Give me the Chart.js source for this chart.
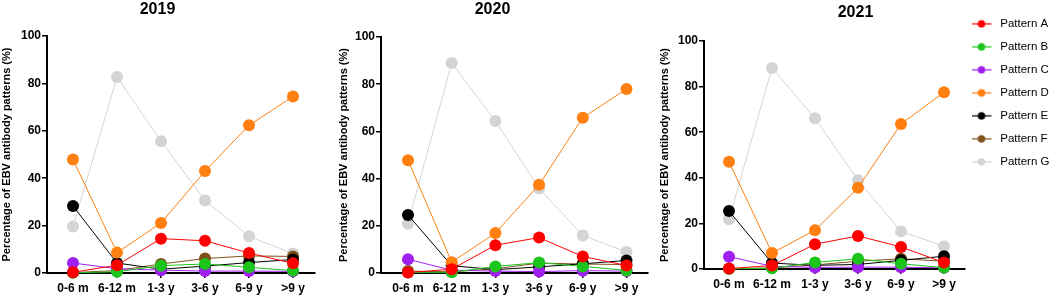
<!DOCTYPE html>
<html>
<head>
<meta charset="utf-8">
<script src="https://cdn.jsdelivr.net/npm/chart.js@4.4.1/dist/chart.umd.min.js"></script>
<style>
  html, body { margin: 0; padding: 0; background: #fff; overflow: hidden; }
  body { width: 1053px; height: 298px; position: relative; }
  .panel { position: absolute; }
</style>
</head>
<body>
<div class="panel" id="panel0"><canvas id="chart0"></canvas></div>
<div class="panel" id="panel1"><canvas id="chart1"></canvas></div>
<div class="panel" id="panel2"><canvas id="chart2"></canvas></div>
<script>
const years = ['2019', '2020', '2021'];
const ageGroups = ['0-6 m', '6-12 m', '1-3 y', '3-6 y', '6-9 y', '>9 y'];
const patternNames = ['Pattern A', 'Pattern B', 'Pattern C', 'Pattern D', 'Pattern E', 'Pattern F', 'Pattern G'];
const yTicks = [0, 20, 40, 60, 80, 100];

// rows: Pattern A..G, columns: age groups
const values2019 = [
    [0.3, 3.3, 14.5, 13.6, 8.4, 4.1],
    [0.1, 0.5, 3.1, 3.8, 2.4, 1.0],
    [4.2, 1.8, 1.2, 0.8, 0.8, 0.7],
    [47.9, 8.6, 21.1, 43.0, 62.3, 74.5],
    [28.3, 4.2, 1.6, 2.9, 4.4, 5.7],
    [0.2, 1.0, 3.8, 6.1, 7.2, 7.0],
    [19.6, 82.7, 55.6, 30.6, 15.5, 8.2]
];
const values2020 = [
    [0.2, 1.6, 11.8, 15.0, 7.0, 3.2],
    [0.2, 0.3, 2.8, 4.4, 2.8, 1.1],
    [5.8, 1.2, 0.8, 0.6, 1.0, 0.8],
    [47.8, 4.6, 16.9, 37.4, 65.8, 78.0],
    [24.6, 3.1, 1.4, 2.6, 3.9, 5.3],
    [0.8, 0.5, 1.8, 4.2, 3.8, 3.6],
    [20.9, 89.0, 64.4, 35.8, 15.9, 8.9]
];
const values2021 = [
    [0.2, 1.5, 10.9, 14.5, 9.7, 2.8],
    [0.1, 0.3, 2.9, 4.5, 2.3, 0.6],
    [5.4, 1.2, 0.7, 0.8, 0.8, 0.5],
    [47.0, 7.0, 17.0, 35.6, 63.6, 77.5],
    [25.4, 2.6, 1.6, 2.0, 3.8, 5.6],
    [0.1, 0.5, 1.8, 3.4, 4.5, 3.4],
    [21.8, 88.2, 66.1, 38.9, 16.5, 10.0]
];
const yearValues = [values2019, values2020, values2021];

const patternColors = ['#ff0000', '#1cc41c', '#a020f0', '#ff7f10', '#000000', '#81501a', '#d4d4d4'];

// page-pixel layout of each panel
const panels = [
    { left: 0,   top: 0, width: 330, height: 298, axisX: 47,  areaTop: 36, areaBottom: 273, areaRight: 315, firstX: 73,  stepX: 44,   legend: false },
    { left: 337, top: 0, width: 330, height: 298, axisX: 381, areaTop: 37, areaBottom: 273, areaRight: 648, firstX: 408, stepX: 43.7, legend: false },
    { left: 658, top: 3, width: 395, height: 295, axisX: 704, areaTop: 41, areaBottom: 269, areaRight: 965, firstX: 729, stepX: 43,   legend: true }
];
const legendWidth = 88;

Chart.defaults.font.family = 'Arial, "Liberation Sans", Helvetica, sans-serif';
Chart.defaults.color = '#000';

// line-with-dot marker for the legend
function legendMarker(color) {
    const c = document.createElement('canvas');
    c.width = 28;
    c.height = 10;
    const g = c.getContext('2d');
    g.strokeStyle = color;
    g.lineWidth = 1.2;
    g.beginPath();
    g.moveTo(0, 5);
    g.lineTo(20, 5);
    g.stroke();
    g.fillStyle = color;
    g.beginPath();
    g.arc(10, 5, 3.8, 0, Math.PI * 2);
    g.fill();
    return c;
}
const markers = patternColors.map(legendMarker);

const axisFont = { size: 12, weight: 'bold' };

years.forEach((year, p) => {
    const lay = panels[p];
    const box = document.getElementById('panel' + p);
    box.style.left = lay.left + 'px';
    box.style.top = lay.top + 'px';
    box.style.width = lay.width + 'px';
    box.style.height = lay.height + 'px';

    const lastX = lay.firstX + (ageGroups.length - 1) * lay.stepX;
    const xMin = -(lay.firstX - lay.axisX) / lay.stepX;
    const xMax = (ageGroups.length - 1) + (lay.areaRight - lastX) / lay.stepX;
    const padRight = lay.left + lay.width - lay.areaRight - (lay.legend ? legendWidth : 0);

    const datasets = yearValues[p].map((row, i) => ({
        label: patternNames[i],
        data: row.map((v, k) => ({ x: k, y: v })),
        borderColor: patternColors[i],
        backgroundColor: patternColors[i],
        borderWidth: 1,
        pointRadius: 6,
        pointBorderWidth: 0,
        pointHoverRadius: 6,
        tension: 0,
        clip: false
    }));

    new Chart(document.getElementById('chart' + p).getContext('2d'), {
        type: 'line',
        data: { datasets: datasets },
        options: {
            responsive: true,
            maintainAspectRatio: false,
            animation: false,
            events: [],
            layout: { padding: { left: 0, right: padRight, top: 0, bottom: 0 } },
            plugins: {
                title: {
                    display: true,
                    text: year,
                    color: '#000',
                    font: { size: 16, weight: 'bold' },
                    padding: { top: 0, bottom: lay.areaTop - lay.top - 19.2 }
                },
                legend: {
                    display: lay.legend,
                    position: 'right',
                    align: 'start',
                    maxWidth: legendWidth,
                    title: { display: true, text: ' ', padding: 0, font: { size: 3 } },
                    labels: {
                        usePointStyle: true,
                        pointStyleWidth: 18,
                        padding: 11.5,
                        color: '#000',
                        font: { size: 11.5 },
                        generateLabels: chart => {
                            const items = Chart.defaults.plugins.legend.labels.generateLabels(chart);
                            items.forEach((item, i) => { item.pointStyle = markers[i]; });
                            return items;
                        }
                    }
                },
                tooltip: { enabled: false }
            },
            scales: {
                x: {
                    type: 'linear',
                    min: xMin,
                    max: xMax,
                    afterBuildTicks: scale => {
                        scale.ticks = ageGroups.map((g, k) => ({ value: k }));
                    },
                    afterFit: scale => {
                        scale.height = lay.top + lay.height - lay.areaBottom;
                    },
                    ticks: {
                        autoSkip: false,
                        maxRotation: 0,
                        padding: 3,
                        color: '#000',
                        font: axisFont,
                        callback: value => ageGroups[value]
                    },
                    grid: { display: true, drawOnChartArea: false, drawTicks: true, tickLength: 5, color: '#000', lineWidth: 1.5 },
                    border: { display: true, color: '#000', width: 2 }
                },
                y: {
                    min: 0,
                    max: 100,
                    afterBuildTicks: scale => {
                        scale.ticks = yTicks.map(v => ({ value: v }));
                    },
                    afterFit: scale => {
                        scale.width = lay.axisX - lay.left;
                    },
                    ticks: { padding: 1, color: '#000', font: axisFont },
                    grid: { display: true, drawOnChartArea: false, drawTicks: true, tickLength: 5, color: '#000', lineWidth: 1.5 },
                    border: { display: true, color: '#000', width: 2 },
                    title: {
                        display: true,
                        text: 'Percentage of EBV antibody patterns (%)',
                        color: '#000',
                        font: { size: 11, weight: 'bold' },
                        padding: 0
                    }
                }
            }
        }
    });
});
</script>
</body>
</html>
